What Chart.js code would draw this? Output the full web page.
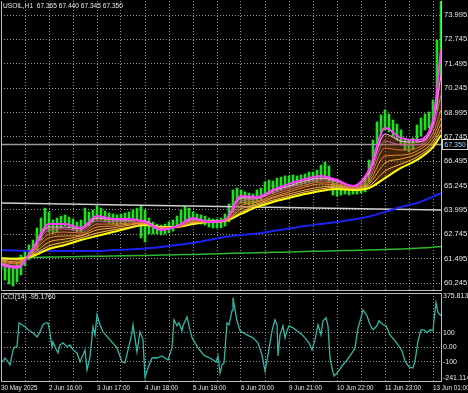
<!DOCTYPE html>
<html>
<head>
<meta charset="utf-8">
<script src="https://cdn.jsdelivr.net/npm/chart.js@4.4.1/dist/chart.umd.min.js"></script>
<style>
  body { margin:0; background:#000; }
  #wrap { position:relative; width:468px; height:393px; background:#000; overflow:hidden;
          font-family:'Liberation Sans',Arial,sans-serif; }
  .pane { position:absolute; left:0; width:468px; }
  #paneMain { top:0; height:293px; }
  #paneCci { top:293px; height:100px; }
  .lbl { position:absolute; left:3px; color:#e8e8e8; line-height:10px; white-space:nowrap; z-index:5; }
  #bid { position:absolute; left:442px; top:139px; width:24px; height:9px; border:1px solid #d0d0d0; background:#000;
         color:#c8c8c8; font-size:7px; line-height:9px; text-align:center; z-index:5; }
</style>
</head>
<body>
<div id="wrap">
  <div class="pane" id="paneMain"><canvas id="chart1"></canvas></div>
  <div class="pane" id="paneCci"><canvas id="chart2"></canvas></div>
  <div class="lbl" style="top:1px;font-size:6.6px">USOIL,H1&nbsp; 67.365 67.440 67.345 67.350</div>
  <div class="lbl" style="top:292px;font-size:6.8px">CCI(14) -95.1760</div>
  <div id="bid">67.350</div>
</div>
<script>
// time axis: one unit = one H1 bar, grid every 12 bars, a label every 24
const gridIdx = [0,12,24,36,48,60,72,84,96,108,120,132,144,156,168,180,192,204,216];
const timeLabels = ['30 May 2025','2 Jun 16:00','3 Jun 17:00','4 Jun 18:00','5 Jun 19:00','6 Jun 20:00',
                    '9 Jun 21:00','10 Jun 22:00','11 Jun 23:00','13 Jun 01:00'];
const priceTicks = [60.245,61.495,62.745,63.995,65.245,66.495,67.745,68.995,70.245,71.495,72.745,73.995];

// price bars, one every 2 bars (index = i*2)
const barHigh = [61.53,61.32,61.17,61.02,61.32,61.68,61.94,62.20,62.45,63.07,63.58,64.09,63.89,63.48,63.58,63.68,
  63.74,63.63,63.53,63.38,63.48,64.09,63.89,63.99,64.20,64.09,63.94,63.84,63.79,63.74,63.79,63.84,63.89,63.99,64.09,
  64.20,63.99,63.58,63.38,63.27,63.22,63.27,63.38,63.48,63.68,63.99,64.20,64.09,63.89,63.79,63.74,63.68,63.58,63.53,
  63.53,63.58,63.79,64.30,65.02,65.12,65.02,64.92,64.86,64.81,65.02,65.12,65.43,65.53,65.48,65.63,65.68,65.74,65.74,
  65.79,65.74,65.79,65.84,65.94,65.94,66.04,66.30,66.45,66.25,65.63,65.43,65.33,65.27,65.22,65.22,65.27,65.33,65.63,
  66.56,67.58,68.51,68.87,69.12,68.92,68.61,68.40,68.10,67.69,67.58,67.69,68.35,68.71,68.92,69.02,69.64,72.71,74.90];
const barLow = [60.91,60.40,60.20,60.09,60.30,60.66,61.12,61.43,61.63,61.94,62.45,63.07,62.86,62.76,62.86,63.07,
  63.17,63.07,62.96,62.86,62.86,63.17,63.17,63.38,63.48,63.48,63.38,63.32,63.27,63.22,63.27,63.27,63.38,63.38,63.48,
  62.56,62.35,62.76,62.76,62.76,62.71,62.76,62.81,62.91,63.07,63.27,63.38,63.38,63.32,63.32,63.27,63.22,63.12,63.07,
  63.07,63.07,63.17,63.38,63.89,64.40,64.35,64.30,64.25,64.25,64.35,64.50,64.71,64.81,64.81,64.92,65.02,65.12,65.17,
  65.22,65.22,65.27,65.33,65.38,65.43,65.43,65.53,65.63,65.43,64.76,64.71,64.76,64.81,64.76,64.81,64.81,64.86,64.92,
  65.43,66.30,67.33,67.84,68.10,68.00,67.79,67.58,67.38,67.07,66.97,67.07,67.48,67.79,68.10,68.20,68.35,69.12,70.66];

// moving averages, read every 8 bars
const maIdx = [0,8,16,24,32,40,48,56,64,72,80,88,96,104,112,120,128,136,144,152,160,168,176,184,192,200,208,216,220];
const ma1 = [61.17,61.02,62.04,63.27,63.27,63.07,63.68,63.53,63.53,63.38,62.97,63.17,63.58,63.38,63.48,64.71,64.66,65.02,65.33,65.58,65.74,65.53,65.22,66.04,68.20,67.69,67.58,68.61,72.20];
const ma2 = [61.22,61.07,61.99,63.12,63.12,63.02,63.58,63.48,63.48,63.43,63.02,63.17,63.53,63.43,63.48,64.61,64.61,64.97,65.22,65.48,65.63,65.48,65.22,65.89,67.89,67.53,67.48,68.40,70.92];
const ma3 = [61.27,61.12,61.94,62.97,63.02,62.91,63.43,63.38,63.43,63.43,63.02,63.17,63.48,63.43,63.48,64.45,64.56,64.86,65.12,65.38,65.53,65.43,65.17,65.74,67.53,67.33,67.33,68.20,69.89];
const ma4 = [61.32,61.22,61.89,62.76,62.86,62.81,63.27,63.27,63.32,63.38,63.07,63.12,63.43,63.38,63.48,64.35,64.45,64.76,65.02,65.27,65.43,65.33,65.17,65.58,67.17,67.07,67.17,67.94,69.12];
const ma5 = [61.38,61.27,61.84,62.56,62.66,62.71,63.12,63.17,63.27,63.32,63.07,63.12,63.38,63.38,63.43,64.20,64.40,64.66,64.92,65.17,65.33,65.27,65.12,65.43,66.76,66.81,67.02,67.74,68.71];
const ma6 = [61.43,61.32,61.74,62.35,62.50,62.66,62.97,63.07,63.22,63.32,63.07,63.12,63.38,63.38,63.43,64.04,64.30,64.61,64.81,65.02,65.17,65.22,65.12,65.33,66.40,66.61,66.87,67.53,68.40];
const ma7 = [61.48,61.43,61.68,62.15,62.35,62.56,62.81,62.97,63.12,63.27,63.12,63.12,63.32,63.38,63.43,63.89,64.25,64.50,64.71,64.92,65.07,65.17,65.07,65.22,65.99,66.35,66.71,67.38,68.10];
const ma8 = [61.53,61.48,61.63,61.99,62.20,62.45,62.66,62.86,63.07,63.22,63.12,63.12,63.27,63.38,63.43,63.79,64.15,64.40,64.61,64.81,64.97,65.07,65.02,65.12,65.63,66.15,66.56,67.22,67.84];
const maBlue = [61.94,61.91,61.89,61.89,61.89,61.89,61.89,61.94,61.97,62.02,62.09,62.20,62.30,62.45,62.61,62.71,62.79,62.91,63.04,63.17,63.27,63.38,63.50,63.66,63.89,64.15,64.35,64.68,64.86];
const maGreen = [61.50,61.53,61.56,61.58,61.59,61.61,61.62,61.63,61.65,61.66,61.68,61.70,61.71,61.74,61.76,61.78,61.80,61.82,61.84,61.86,61.88,61.90,61.92,61.94,61.97,61.99,62.03,62.08,62.12];

const bidPrice = 67.35;
const trendIdx = [0, 220];
const trendVal = [64.35, 63.99];

// CCI(14): [bar index, value]
const cciPts = [[0,-111.5],[2,-74.6],[3.5,-102.4],[4.5,-123.4],[6,-18.8],[7,2.1],[8,2.1],[9,169.3],[10.5,155.4],
  [12,141.5],[13.5,120.6],[16,99.7],[18,71.8],[19.5,106.6],[21,155.4],[22.5,169.3],[23.5,169.3],[24.5,99.7],[25.5,2.1],
  [26,36.9],[27,2.1],[28.5,-39.7],[29.5,16.0],[31,30.0],[33,2.1],[34.5,16.0],[36,-18.8],[38,-39.7],[39.5,-102.4],
  [41,-53.7],[42,-18.8],[43,-158.2],[44.5,-67.6],[46,141.5],[47,85.7],[48,225.1],[49.5,155.4],[51,106.6],[54.5,50.9],
  [58,-4.9],[60.5,-102.4],[62,-109.4],[63.5,-18.8],[65.5,99.7],[66,155.4],[68,-32.8],[69.5,106.6],[71,50.9],
  [72,-207.0],[73.5,-144.3],[75.5,-74.6],[78,-74.6],[80.5,-60.6],[82,-74.6],[83.5,-88.5],[85.5,-4.9],[86.5,190.3],
  [88,148.4],[89,169.3],[90.5,113.6],[91,148.4],[93,211.2],[94,148.4],[95.5,64.8],[97,30.0],[98.5,-4.9],[100.5,-39.7],
  [102,-60.6],[104.5,-74.6],[106,-88.5],[107.5,-102.4],[108.5,-60.6],[109.5,-179.1],[110.5,-123.4],[111.5,-109.4],
  [113,169.3],[114,155.4],[115.5,253.0],[116,343.6],[117,259.9],[118,183.3],[119.5,113.6],[123,85.7],[126,64.8],
  [128.5,30.0],[130.5,-53.7],[132,-165.2],[133.5,-53.7],[135.5,113.6],[137,190.3],[138,155.4],[138.5,-60.6],
  [139.5,85.7],[141,148.4],[142,64.8],[143,113.6],[144,148.4],[146,134.5],[148,113.6],[150.5,85.7],[152,64.8],
  [154,30.0],[155.5,-18.8],[157,50.9],[158.5,155.4],[160,85.7],[161,183.3],[162.5,204.2],[163.5,148.4],[164.5,-74.6],
  [165.5,-144.3],[166.5,-200.0],[168,-179.1],[170.5,-130.3],[173,-88.5],[175.5,-39.7],[177,-4.9],[178.5,134.5],
  [180,204.2],[181,259.9],[183,218.1],[184.5,155.4],[186,120.6],[188,148.4],[189,183.3],[191,155.4],[192.5,148.4],
  [194.5,85.7],[197,43.9],[198.5,16.0],[200.5,-25.8],[202,-95.5],[204,-137.3],[206,-144.3],[207,-95.5],[208.5,43.9],
  [210,120.6],[211.5,120.6],[213,99.7],[214.5,120.6],[216,113.6],[216.5,190.3],[217.5,308.7],[218.5,239.0],[220,218.1]];
const cciTicks = [-214, -100, 0, 100, 354];   // outer two carry the min/max labels
const cciMin = -241.114, cciMax = 375.8131;

const gridCol = 'rgba(200,200,200,0.75)';
const frameCol = '#bdbdbd';
const axisFont = { family: "'Liberation Sans',Arial,sans-serif", size: 7.6 };
const cciFont = { family: "'Liberation Sans',Arial,sans-serif", size: 7 };
const timeFont = { family: "'Liberation Sans',Arial,sans-serif", size: 6.3 };

function pts(xs, ys) {
  return ys.map(function(v, i) { return { x: xs[i], y: v }; });
}

// gray frame around the plot area, like the terminal window
const framePlugin = {
  id: 'frame',
  afterDraw(chart, args, opts) {
    const a = chart.chartArea, c = chart.ctx;
    c.save();
    c.strokeStyle = frameCol;
    c.lineWidth = 1;
    c.beginPath();
    if (opts.top) { c.moveTo(a.left, a.top + 0.5); c.lineTo(a.right + 1, a.top + 0.5); }
    c.moveTo(a.left + 0.5, a.top); c.lineTo(a.left + 0.5, a.bottom);
    c.moveTo(a.right + 0.5, a.top); c.lineTo(a.right + 0.5, a.bottom);
    c.moveTo(a.left, a.bottom - 0.5); c.lineTo(a.right + 1, a.bottom - 0.5);
    c.stroke();
    c.restore();
  }
};

function maLine(data, color, width, order) {
  return { type: 'line', data: pts(maIdx, data), borderColor: color, borderWidth: width, pointRadius: 0,
           cubicInterpolationMode: 'monotone', order: order, fill: false };
}

// the slow ribbon line also shades the band up to the second fastest line
var ribbonBase = maLine(ma8, '#ffff00', 2, 8);
ribbonBase.fill = { target: 1 };
ribbonBase.backgroundColor = 'rgba(170,95,25,0.38)';

// main price pane
var chart1 = document.getElementById('chart1').getContext('2d');
var chart1_main = new Chart(chart1, {
  type: 'line',
  data: {
    datasets: [
      maLine(ma1, '#ff3cff', 2, 1),
      maLine(ma2, '#ff9ad8', 1.2, 2),
      maLine(ma3, '#c85aa8', 1, 3),
      maLine(ma4, '#d8703c', 1, 4),
      maLine(ma5, '#e48a30', 1, 5),
      maLine(ma6, '#eca23c', 1, 6),
      maLine(ma7, '#f2b84c', 1, 7),
      ribbonBase,
      maLine(maBlue, '#1c22f0', 2, 10),
      maLine(maGreen, '#2eb82e', 1.5, 11),
      { type: 'line', data: pts([0, 220], [bidPrice, bidPrice]), borderColor: '#9a9a9a', borderWidth: 1.5,
        pointRadius: 0, order: 12 },
      { type: 'line', data: pts(trendIdx, trendVal), borderColor: '#cfcfcf', borderWidth: 1.5,
        pointRadius: 0, order: 13 },
      { type: 'bar', data: barHigh.map(function(h, i) { return { x: i * 2, y: [barLow[i], h] }; }),
        backgroundColor: '#1fe01f', barThickness: 2, order: 20 }
    ]
  },
  options: {
    responsive: true, maintainAspectRatio: false, animation: false, devicePixelRatio: 1,
    layout: { padding: { left: 1, top: 1, bottom: 2, right: 0 } },
    plugins: { legend: { display: false }, tooltip: { enabled: false }, frame: { top: false } },
    scales: {
      x: {
        type: 'linear', min: 0, max: 220, offset: false,
        afterBuildTicks: function(s) { s.ticks = gridIdx.map(function(v) { return { value: v }; }); },
        ticks: { display: false },
        grid: { color: gridCol, drawTicks: false, offset: false },
        border: { display: false, dash: [1, 2] },
        afterFit: function(s) { s.height = 0; s.paddingLeft = 0; s.paddingRight = 0; }
      },
      y: {
        position: 'right', min: 59.837, max: 74.714,
        afterBuildTicks: function(s) { s.ticks = priceTicks.map(function(v) { return { value: v }; }); },
        ticks: { color: '#e6e6e6', font: axisFont, padding: 3, callback: function(v) { return v.toFixed(3); } },
        grid: { color: gridCol, drawTicks: false },
        border: { display: false, dash: [1, 2] },
        afterFit: function(s) { s.width = 27; s.paddingTop = 0; s.paddingBottom = 0; }
      }
    }
  },
  plugins: [framePlugin]
});

// CCI pane with the time axis
var chart2 = document.getElementById('chart2').getContext('2d');
var chart2_cci = new Chart(chart2, {
  type: 'line',
  data: {
    datasets: [{
      data: cciPts.map(function(p) { return { x: p[0], y: p[1] }; }),
      borderColor: '#2fb8a8', borderWidth: 1.3, pointRadius: 0, tension: 0
    }]
  },
  options: {
    responsive: true, maintainAspectRatio: false, animation: false, devicePixelRatio: 1,
    layout: { padding: { left: 1, top: 0, bottom: 0, right: 0 } },
    plugins: { legend: { display: false }, tooltip: { enabled: false }, frame: { top: true } },
    scales: {
      x: {
        type: 'linear', min: 0, max: 220, offset: false,
        afterBuildTicks: function(s) { s.ticks = gridIdx.map(function(v) { return { value: v }; }); },
        ticks: { color: '#e6e6e6', font: timeFont, padding: 2, align: 'start', autoSkip: false, maxRotation: 0,
                 callback: function(v) { return v % 24 === 0 ? timeLabels[v / 24] : ''; } },
        grid: { color: gridCol, drawTicks: false, offset: false },
        border: { display: false, dash: [1, 2] },
        afterFit: function(s) { s.height = 11; s.paddingLeft = 0; s.paddingRight = 0; }
      },
      y: {
        position: 'right', min: cciMin, max: cciMax,
        afterBuildTicks: function(s) { s.ticks = cciTicks.map(function(v) { return { value: v }; }); },
        ticks: { color: '#e6e6e6', font: cciFont, padding: 2,
                 callback: function(v) {
                   if (v === 354) return '375.8131';
                   if (v === -214) return '-241.114';
                   if (v === 0) return '0.00';
                   return String(v);
                 } },
        grid: { drawTicks: false,
                color: function(ctx) { return [100, 0, -100].includes(ctx.tick.value) ? gridCol : 'transparent'; } },
        border: { display: false, dash: [1, 2] },
        afterFit: function(s) { s.width = 27; s.paddingTop = 0; s.paddingBottom = 0; }
      }
    }
  },
  plugins: [framePlugin]
});
</script>
</body>
</html>
